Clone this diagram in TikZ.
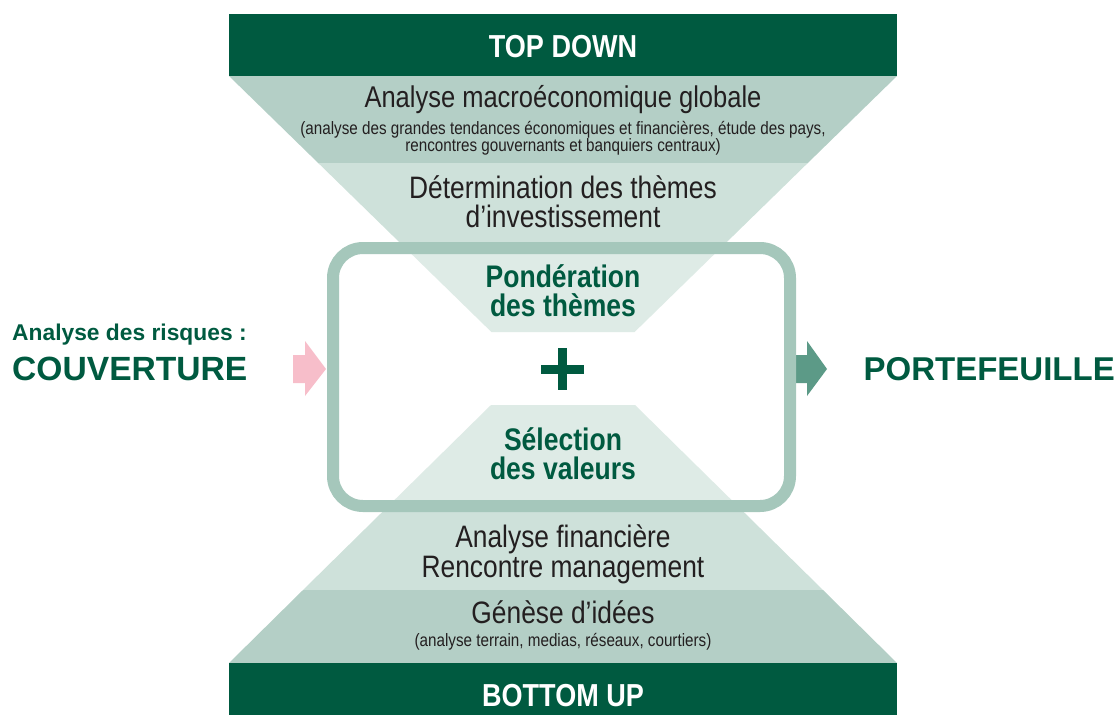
\documentclass[tikz,border=0pt]{standalone}
\usepackage{fontspec}
\setmainfont{Liberation Sans}
\newfontfamily\cond[FakeStretch=0.85]{Liberation Sans}
\definecolor{dkgreen}{RGB}{0,90,64}
\definecolor{bandA}{RGB}{180,207,198}
\definecolor{bandB}{RGB}{206,225,218}
\definecolor{bandC}{RGB}{222,235,230}
\definecolor{frameline}{RGB}{165,199,187}
\definecolor{pinkarrow}{RGB}{247,190,202}
\definecolor{greenarrow}{RGB}{92,154,135}
\definecolor{textgray}{RGB}{35,31,32}
\tikzset{
  bartext/.style={font=\cond\bfseries\fontsize{31.8}{33}\selectfont, text=white, anchor=base, inner sep=0pt},
  headtext/.style={font=\cond\fontsize{31}{33}\selectfont, text=textgray, anchor=base, inner sep=0pt},
  subtext/.style={font=\cond\fontsize{17.9}{19}\selectfont, text=textgray, anchor=base, inner sep=0pt},
  keytext/.style={font=\cond\bfseries\fontsize{31.2}{33}\selectfont, text=dkgreen, anchor=base, inner sep=0pt},
  sidesmall/.style={font=\bfseries\fontsize{22.8}{24}\selectfont, text=dkgreen, anchor=base west, inner sep=0pt},
  sidebig/.style={font=\bfseries\fontsize{33.6}{36}\selectfont, text=dkgreen, anchor=base west, inner sep=0pt},
}
\begin{document}
\begin{tikzpicture}[x=1pt,y=-1pt]
\useasboundingbox (0,0) rectangle (1118,715);
% top funnel
\fill[dkgreen] (229,14) rectangle (897,76);
\fill[bandA] (229,76) -- (897,76) -- (807.8,163) -- (318.2,163) -- cycle;
\fill[bandB] (318.2,163) -- (807.8,163) -- (634.6,332) -- (491.4,332) -- cycle;
% bottom funnel
\fill[bandB] (491,405) -- (635,405) -- (823,590) -- (303,590) -- cycle;
\fill[bandA] (303,590) -- (823,590) -- (897,663) -- (229,663) -- cycle;
\fill[dkgreen] (229,663) rectangle (897,715);
% arrows
\fill[pinkarrow] (293,355) -- (305,355) -- (305,341) -- (326,369) -- (305,396) -- (305,383) -- (293,383) -- cycle;
\fill[greenarrow] (795,355) -- (807,355) -- (807,341) -- (827,369) -- (807,396) -- (807,383) -- (795,383) -- cycle;
% frame interior
\fill[white, rounded corners=30pt] (333,248) rectangle (790,506);
\begin{scope}
  \clip[rounded corners=30pt] (333,248) rectangle (790,506);
  \fill[bandC] (318.2,163) -- (807.8,163) -- (634.6,332) -- (491.4,332) -- cycle;
  \fill[bandC] (491,405) -- (635,405) -- (823,590) -- (303,590) -- cycle;
\end{scope}
\draw[frameline, line width=12pt, rounded corners=30pt] (333,248) rectangle (790,506);
% plus
\draw[dkgreen, line width=9pt] (541,369) -- (584,369);
\draw[dkgreen, line width=9pt] (562.5,348) -- (562.5,390);
% texts
\node[bartext] (topdown) at (563,57) {TOP DOWN};
\node[headtext, font=\cond\fontsize{30}{32}\selectfont] (macro) at (563,107) {Analyse macroéconomique globale};
\node[subtext] (macro1) at (563,134) {(analyse des grandes tendances économiques et financières, étude des pays,};
\node[subtext] (macro2) at (563,151) {rencontres gouvernants et banquiers centraux)};
\node[headtext] (themes1) at (563,198) {Détermination des thèmes};
\node[headtext] (themes2) at (563,227) {d’investissement};
\node[keytext] (pond1) at (563,287) {Pondération};
\node[keytext] (pond2) at (563,316) {des thèmes};
\node[keytext] (sel1) at (563,450) {Sélection};
\node[keytext] (sel2) at (563,479) {des valeurs};
\node[headtext] (fin1) at (563,547) {Analyse financière};
\node[headtext] (fin2) at (563,577) {Rencontre management};
\node[headtext] (gen1) at (563,623) {Génèse d’idées};
\node[subtext] (gen2) at (563,646) {(analyse terrain, medias, réseaux, courtiers)};
\node[bartext] (bottomup) at (563,706) {BOTTOM UP};
\node[sidesmall] (risk) at (12,340) {Analyse des risques :};
\node[sidebig] (couv) at (12,380) {COUVERTURE};
\node[sidebig, anchor=base east, font=\bfseries\fontsize{33}{36}\selectfont] (port) at (1115,380) {PORTEFEUILLE};
\end{tikzpicture}
\end{document}
